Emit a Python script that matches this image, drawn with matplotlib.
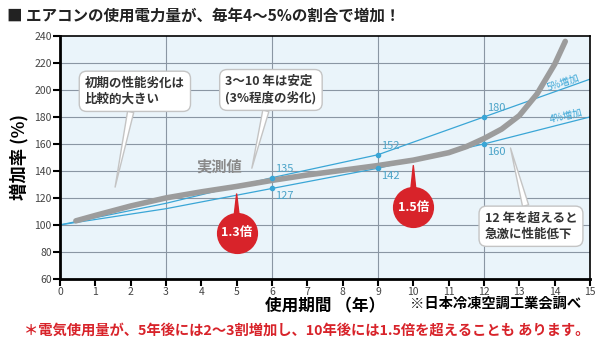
import matplotlib.pyplot as plt
from matplotlib.ticker import MultipleLocator

plt.rcParams['font.family'] = ['Noto Sans CJK JP', 'DejaVu Sans']

# data
years = [0, 3, 6, 9, 12, 15]
rate5 = [100, 116, 135, 152, 180, 208]
rate4 = [100, 112, 127, 142, 160, 180]
label_idx = [2, 3, 4]

meas_x = [0.45, 1, 2, 3, 4, 5, 6, 7, 8, 9, 10, 11, 11.5, 12, 12.5, 13, 13.5, 14, 14.3]
meas_y = [103, 107, 114, 120, 124.5, 128.5, 133, 137, 140.5, 144, 148, 153.5, 158, 164, 171, 181, 197, 219, 236]

blue = '#3aa6d6'
red = '#d8232a'
gray = '#9c9c9c'
txt = '#333333'

fig = plt.figure(figsize=(6.04, 3.46), dpi=100)
ax = fig.add_axes([0.0993, 0.194, 0.8775, 0.702])
ax.set_facecolor('#eaf4fa')

ax.set_xlim(0, 15)
ax.set_ylim(60, 240)
ax.xaxis.set_major_locator(MultipleLocator(1))
ax.yaxis.set_major_locator(MultipleLocator(20))
for x in [3, 6, 9, 12]:
    ax.axvline(x, color='#8a96a3', lw=0.8, zorder=0)
for y in range(80, 240, 20):
    ax.axhline(y, color='#8a96a3', lw=0.8, zorder=0)

for s in ['left', 'bottom']:
    ax.spines[s].set_linewidth(2)
for s in ['top', 'right']:
    ax.spines[s].set_linewidth(1.2)
ax.tick_params(axis='both', length=5, width=1.5, labelsize=7.5, colors='black',
               labelcolor='#444444', pad=1)

# measured curve
ax.plot(meas_x, meas_y, color=gray, lw=4, solid_capstyle='round', zorder=3)

# 4% / 5% lines
ax.plot(years, rate5, color=blue, lw=0.9, zorder=2)
ax.plot(years, rate4, color=blue, lw=0.9, zorder=2)
for i in label_idx:
    ax.plot(years[i], rate5[i], 'o', color=blue, ms=3, zorder=4)
    ax.plot(years[i], rate4[i], 'o', color=blue, ms=3, zorder=4)
    ax.text(years[i] + 0.1, rate5[i] + 3, str(rate5[i]), color='#4aa3c8', fontsize=8,
            ha='left', va='bottom', zorder=5)
    ax.text(years[i] + 0.1, rate4[i] - 2, str(rate4[i]), color='#4aa3c8', fontsize=8,
            ha='left', va='top', zorder=5)
ax.text(14.3, 202, '5%増加', color=blue, fontsize=7, rotation=19, ha='center', va='bottom',
        rotation_mode='anchor')
ax.text(14.35, 177, '4%増加', color=blue, fontsize=7, rotation=14, ha='center', va='bottom',
        rotation_mode='anchor')

ax.text(4.5, 137, '実測値', color='#8a8a8a', fontsize=11, fontweight='bold',
        ha='center', va='bottom', zorder=5)

# callouts
box = dict(boxstyle='round,pad=0.45,rounding_size=0.6', fc='white', ec='#c4c4c4', lw=1)
wedge = dict(arrowstyle='wedge,tail_width=0.5', fc='white', ec='#c4c4c4', lw=1,
             shrinkA=0, shrinkB=0)
ax.annotate('初期の性能劣化は\n比較的大きい', xy=(1.56, 128), xytext=(2.12, 199),
            fontsize=9, fontweight='bold', color=txt, ha='center', va='center',
            multialignment='left', linespacing=1.3, bbox=box, arrowprops=wedge, zorder=6)
ax.annotate('3〜10 年は安定\n(3%程度の劣化)', xy=(5.43, 142), xytext=(5.97, 200),
            fontsize=9, fontweight='bold', color=txt, ha='center', va='center',
            multialignment='left', linespacing=1.3, bbox=box, arrowprops=wedge, zorder=6)
ax.annotate('12 年を超えると\n急激に性能低下', xy=(12.75, 157), xytext=(13.33, 99),
            fontsize=9, fontweight='bold', color=txt, ha='center', va='center',
            multialignment='left', linespacing=1.3, bbox=box, arrowprops=wedge, zorder=6)

# red badges
for bx, by, top, lab in [(5, 94, 125, '1.3倍'), (10, 113, 146, '1.5倍')]:
    ax.annotate('', xy=(bx, top), xytext=(bx, by),
                arrowprops=dict(arrowstyle='wedge,tail_width=0.6', fc=red, ec=red),
                zorder=6)
    ax.scatter([bx], [by], s=820, color=red, zorder=7)
    ax.text(bx, by, lab, color='white', fontsize=9, fontweight='bold',
            ha='center', va='center', zorder=8)

ax.set_ylabel('増加率 (%)', fontsize=12.5, fontweight='bold', labelpad=4)
ax.set_xlabel('使用期間 （年）', fontsize=12, fontweight='bold', labelpad=0)

fig.text(0.012, 0.955, '■ エアコンの使用電力量が、毎年4〜5%の割合で増加！',
         fontsize=11.2, fontweight='bold', ha='left', va='center', color='#222222')
fig.text(0.678, 0.122, '※日本冷凍空調工業会調べ', fontsize=10.3, fontweight='bold',
         ha='left', va='center', color='black')
fig.text(0.04, 0.045, '＊電気使用量が、5年後には2〜3割増加し、10年後には1.5倍を超えることも あります。',
         fontsize=10.3, fontweight='bold', ha='left', va='center', color=red)

fig.savefig('out.png', dpi=100)
